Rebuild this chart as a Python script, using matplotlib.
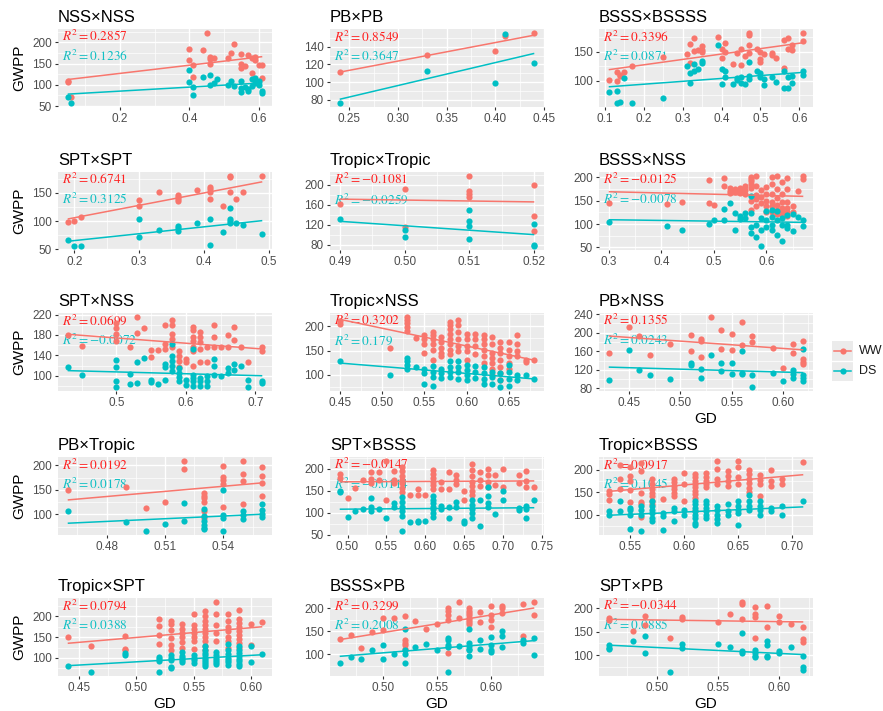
import numpy as np
import matplotlib
matplotlib.use("Agg")
import matplotlib.pyplot as plt

plt.rcParams["font.family"] = ["Liberation Sans", "DejaVu Sans"]
plt.rcParams["mathtext.fontset"] = "stix"

WW_COLOR = "#F8766D"
DS_COLOR = "#00BFC4"

# GD value -> list of GWPP values, one dict per treatment and cross
NSS_NSS_WW = {0.05: [110, 106], 0.06: [72], 0.40: [184, 158], 0.41: [146, 118], 0.44: [181],
              0.45: [223], 0.46: [165, 160, 150], 0.47: [163], 0.51: [162], 0.52: [174],
              0.53: [196], 0.55: [172, 150, 140], 0.56: [145], 0.57: [170], 0.58: [162, 127],
              0.59: [158, 165], 0.60: [146], 0.61: [146, 115]}
NSS_NSS_DS = {0.05: [71], 0.06: [56], 0.40: [134, 106], 0.41: [94, 77], 0.44: [119],
              0.46: [124, 100], 0.47: [104], 0.48: [113], 0.51: [100], 0.52: [109], 0.53: [98],
              0.55: [108, 93, 83], 0.56: [95], 0.57: [89, 85], 0.58: [113, 97], 0.59: [117, 104],
              0.60: [100, 108], 0.61: [85, 81]}

PB_PB_WW = {0.24: [112], 0.33: [131], 0.40: [135], 0.41: [152], 0.44: [156]}
PB_PB_DS = {0.24: [76], 0.33: [113], 0.40: [99], 0.41: [154], 0.44: [122]}

BSSS_BSSSS_WW = {0.11: [101], 0.13: [115, 100], 0.14: [110, 108], 0.15: [115], 0.17: [126],
                 0.25: [141], 0.31: [146], 0.32: [164, 130], 0.33: [173, 152], 0.34: [153],
                 0.35: [160, 153, 150], 0.39: [175], 0.40: [155, 139], 0.41: [165, 150],
                 0.43: [129], 0.44: [148], 0.45: [155, 128], 0.46: [143],
                 0.47: [182, 178, 161, 148], 0.49: [155], 0.50: [149, 137, 132], 0.51: [146],
                 0.53: [147, 145], 0.54: [140], 0.56: [170, 122], 0.57: [174, 155],
                 0.58: [161, 153], 0.61: [183, 168]}
BSSS_BSSSS_DS = {0.11: [80], 0.13: [83, 61], 0.14: [63], 0.15: [105], 0.17: [61], 0.25: [71],
                 0.31: [125], 0.32: [114, 97], 0.33: [129, 116], 0.34: [120], 0.35: [134, 131],
                 0.39: [162], 0.40: [120, 95], 0.41: [117, 106], 0.43: [95], 0.44: [104, 101],
                 0.45: [106, 97], 0.46: [95], 0.47: [133, 109, 103], 0.49: [117],
                 0.50: [114, 107], 0.51: [103, 93], 0.53: [106], 0.54: [98], 0.56: [117, 87],
                 0.57: [106, 87], 0.58: [109, 97], 0.61: [116, 110]}

SPT_SPT_WW = {0.19: [98], 0.20: [101], 0.21: [107], 0.30: [138, 127], 0.33: [151],
              0.36: [147, 143, 139, 135], 0.39: [155], 0.41: [161, 157, 151, 139], 0.43: [127],
              0.44: [181, 178, 151], 0.45: [140], 0.46: [151], 0.49: [181]}
SPT_SPT_DS = {0.19: [66], 0.20: [55], 0.21: [56], 0.30: [103, 72], 0.33: [84], 0.36: [91, 87, 83],
              0.39: [97], 0.41: [104, 57], 0.43: [80], 0.44: [123, 104, 100, 97], 0.45: [96],
              0.46: [93], 0.49: [77]}

TROPIC_TROPIC_WW = {0.49: [162], 0.50: [191, 115], 0.51: [218, 188, 181, 175], 0.52: [200, 138, 108]}
TROPIC_TROPIC_DS = {0.49: [132], 0.50: [109, 95], 0.51: [150, 127, 118, 92], 0.52: [122, 80, 77]}

BSSS_NSS_WW = {0.30: [146], 0.41: [143], 0.44: [147], 0.49: [194, 146], 0.50: [141],
               0.52: [198, 182], 0.53: [178, 171, 166], 0.54: [175, 168], 0.55: [178, 171, 166],
               0.56: [182, 173, 164], 0.57: [201, 197, 192, 185, 178, 149, 130],
               0.58: [203, 181, 163, 154, 138], 0.59: [174, 159, 145],
               0.60: [180, 165, 150, 138, 125], 0.61: [200, 185, 165, 148, 138, 125],
               0.62: [204, 175, 155, 140, 130, 122], 0.63: [190, 165, 148, 135, 125, 120],
               0.64: [199, 175, 148, 135, 125, 118], 0.65: [138, 125], 0.66: [170],
               0.67: [203, 196]}
BSSS_NSS_DS = {0.30: [104], 0.41: [96], 0.44: [88], 0.49: [100], 0.50: [109], 0.52: [133, 109],
               0.53: [146], 0.54: [123, 87], 0.55: [117, 110], 0.56: [123, 114],
               0.57: [161, 123, 93, 80], 0.58: [98, 72], 0.59: [114, 87, 52], 0.60: [127, 109, 93],
               0.61: [130, 116, 98, 87], 0.62: [127, 109, 76], 0.63: [112, 98, 64],
               0.64: [120, 98, 91], 0.65: [122, 86], 0.66: [116], 0.67: [109, 96]}

SPT_NSS_WW = {0.43: [179], 0.45: [159], 0.50: [203, 193, 181, 169], 0.52: [156], 0.53: [216, 183],
              0.54: [193], 0.55: [151, 136], 0.56: [151], 0.57: [199, 162, 152],
              0.58: [209, 199, 181, 172, 156], 0.59: [149, 139, 129, 117], 0.60: [132, 126],
              0.61: [196, 189, 176, 169, 156, 149, 119], 0.62: [186, 176, 166, 152, 126],
              0.63: [156, 126], 0.64: [199, 176, 156], 0.65: [156], 0.66: [179, 156],
              0.67: [196, 170], 0.68: [156], 0.69: [127], 0.71: [156, 149]}
SPT_NSS_DS = {0.43: [117], 0.45: [102], 0.50: [130, 117, 90, 77], 0.52: [103, 83], 0.53: [126, 85],
              0.54: [135], 0.55: [91, 87], 0.56: [84], 0.57: [122, 117, 92],
              0.58: [162, 139, 129, 119, 109], 0.59: [115, 105, 97, 89], 0.60: [92, 82],
              0.61: [152, 102, 95, 89, 79], 0.62: [96, 89, 80], 0.63: [99, 89, 79],
              0.64: [132, 119, 102], 0.65: [100], 0.66: [115, 105], 0.67: [122, 112], 0.68: [119],
              0.69: [92, 77], 0.71: [89, 85]}

TROPIC_NSS_WW = {0.45: [211, 204], 0.51: [156], 0.53: [220, 213, 206, 199, 191], 0.54: [175],
                 0.55: [181, 174, 163, 144], 0.56: [188, 181, 174, 163, 152, 131],
                 0.57: [177, 167, 156, 145, 138], 0.58: [209, 202, 195, 184, 174, 163, 152, 142],
                 0.59: [213, 202, 188, 174, 160, 149], 0.60: [184, 174, 160, 149, 131],
                 0.61: [184, 174, 160, 142], 0.62: [181, 174, 163, 152, 138, 124],
                 0.63: [177, 163, 145, 135, 124, 113, 99], 0.64: [167, 156, 145, 131, 117, 103, 89],
                 0.65: [167, 152, 138, 124, 113], 0.66: [181, 163, 149, 138], 0.67: [131, 126],
                 0.68: [131]}
TROPIC_NSS_DS = {0.45: [128], 0.51: [99], 0.53: [135, 128, 121, 113], 0.54: [116],
                 0.55: [113, 103, 82], 0.56: [118, 106, 96, 76], 0.57: [113, 103, 94],
                 0.58: [128, 117, 106, 96], 0.59: [128, 116, 105, 92], 0.60: [121, 110, 99, 89],
                 0.61: [118, 106, 94], 0.62: [117, 104, 92, 82], 0.63: [106, 96, 82],
                 0.64: [103, 89, 74], 0.65: [121, 106, 92, 78], 0.66: [99, 89], 0.67: [99],
                 0.68: [92]}

PB_NSS_WW = {0.43: [156], 0.45: [212], 0.46: [193], 0.47: [151], 0.49: [176], 0.51: [196, 160],
             0.52: [186, 182, 147], 0.53: [235], 0.54: [207, 164], 0.55: [198, 162],
             0.56: [224, 174], 0.57: [193, 180], 0.59: [167], 0.60: [125], 0.61: [176, 157],
             0.62: [182, 144, 138, 133]}
PB_NSS_DS = {0.43: [98], 0.45: [162], 0.46: [120], 0.47: [108], 0.49: [100], 0.51: [135, 131],
             0.52: [122, 103], 0.53: [151], 0.54: [134, 118], 0.55: [134, 110],
             0.56: [161, 113, 111], 0.57: [109, 82], 0.59: [113], 0.60: [96],
             0.61: [119, 111, 102], 0.62: [164, 108, 102, 97]}

PB_TROPIC_WW = {0.46: [150], 0.49: [156], 0.50: [112], 0.51: [126], 0.52: [210, 193],
                0.53: [143, 138, 134, 126, 107, 93], 0.54: [198, 177, 171, 163, 115],
                0.55: [210, 183, 168, 122], 0.56: [196, 178, 165, 138]}
PB_TROPIC_DS = {0.46: [106], 0.49: [85], 0.50: [65], 0.51: [80], 0.52: [124, 87],
                0.53: [110, 96, 86, 79, 73, 69], 0.54: [149, 98, 93, 66], 0.55: [107, 99, 90],
                0.56: [121, 108, 101, 94]}

SPT_BSSS_WW = {0.49: [188, 178], 0.50: [133], 0.51: [156], 0.52: [175], 0.53: [192, 177, 168],
               0.54: [192, 175], 0.55: [219, 129], 0.56: [194, 175, 167],
               0.57: [205, 194, 183, 175, 167, 156, 146], 0.58: [141], 0.59: [154, 141],
               0.60: [141], 0.61: [197, 188, 180, 171, 163, 154], 0.62: [171, 154],
               0.63: [192, 154], 0.64: [185, 175, 165], 0.65: [150, 129],
               0.66: [210, 197, 184, 171, 160, 150, 141], 0.67: [192, 175, 160],
               0.68: [200, 185, 170, 158], 0.69: [185, 163], 0.70: [200, 158], 0.72: [185, 168],
               0.73: [195, 172, 158], 0.74: [158]}
SPT_BSSS_DS = {0.49: [150, 146], 0.50: [91], 0.51: [103], 0.52: [108], 0.53: [133, 114, 103],
               0.54: [109], 0.55: [87], 0.56: [123, 112], 0.57: [135, 124, 114, 103, 92, 57],
               0.58: [78], 0.59: [82, 78], 0.60: [81], 0.61: [137, 129, 123, 114, 108, 99, 91],
               0.62: [116, 108], 0.63: [112, 87], 0.64: [124, 114], 0.65: [81, 76],
               0.66: [129, 118, 109, 99, 87], 0.67: [129, 70], 0.68: [158, 138, 122, 113],
               0.69: [97], 0.70: [150, 129], 0.72: [110, 105], 0.73: [116, 108, 87], 0.74: [130]}

TROPIC_BSSS_WW = {0.53: [153, 147, 132], 0.54: [210, 180, 157], 0.55: [206, 187, 176, 155, 127],
                  0.56: [215, 198, 149, 128, 123, 94], 0.57: [180, 168, 157, 149, 142, 130, 123],
                  0.58: [134], 0.59: [180, 172, 164, 157, 149, 142], 0.60: [192, 168, 130],
                  0.61: [191, 183, 176, 168, 161, 153, 145, 138, 108],
                  0.62: [192, 183, 176, 168, 161], 0.63: [221, 202, 180, 168],
                  0.64: [198, 187, 176, 164], 0.65: [220, 206, 183, 168],
                  0.66: [200, 191, 180, 170, 160, 150], 0.67: [188, 178, 168, 142],
                  0.68: [200, 176, 165], 0.69: [180, 168], 0.71: [218]}
TROPIC_BSSS_DS = {0.53: [108, 100], 0.54: [130, 108], 0.55: [115, 111, 100, 68],
                  0.56: [119, 109, 100, 62], 0.57: [130, 119, 111, 104, 92, 85], 0.58: [104, 96, 66],
                  0.59: [115, 108, 85], 0.60: [111, 100], 0.61: [130, 123, 115, 108, 100, 92, 81, 76],
                  0.62: [130, 123, 115, 108, 100, 92], 0.63: [119, 111, 100, 89, 81],
                  0.64: [123, 108, 100], 0.65: [130, 119, 111, 104, 76], 0.66: [144, 130, 119, 111],
                  0.67: [130, 119, 111, 100], 0.68: [115, 108], 0.69: [119, 98], 0.71: [130]}

TROPIC_SPT_WW = {0.44: [150], 0.46: [130], 0.49: [153, 122, 118], 0.52: [193, 178, 155, 133],
                 0.53: [190, 183, 168, 148, 132, 118], 0.54: [182, 170, 160, 150, 138, 125],
                 0.55: [207, 180, 170, 160, 150, 140, 122],
                 0.56: [213, 200, 190, 180, 170, 160, 150, 140, 130, 120],
                 0.57: [236, 207, 180, 160, 140], 0.58: [207, 190, 175, 165, 150, 140, 125],
                 0.59: [215, 195, 185, 175, 165, 155, 145, 135, 125], 0.60: [183, 132], 0.61: [186]}
TROPIC_SPT_DS = {0.44: [80], 0.46: [65], 0.49: [112, 107], 0.52: [103, 98, 92, 65],
                 0.53: [108, 100, 95, 78, 75], 0.54: [115, 105, 100, 95, 90], 0.55: [108, 100, 95, 88],
                 0.56: [128, 120, 112, 106, 100, 95, 90, 85, 80], 0.57: [115, 108, 100, 95, 90, 85],
                 0.58: [133, 120, 110, 100, 95, 90, 82], 0.59: [128, 120, 112, 105, 98, 92, 85, 80],
                 0.60: [128, 90], 0.61: [110]}

BSSS_PB_WW = {0.46: [133], 0.47: [142], 0.48: [113], 0.49: [148], 0.50: [178, 153], 0.51: [178],
              0.52: [183, 130, 125, 120, 112], 0.53: [172], 0.54: [155], 0.55: [165],
              0.56: [200, 195, 185, 175, 103], 0.57: [215, 178],
              0.58: [200, 195, 190, 185, 180, 175, 170, 165], 0.59: [192, 170],
              0.60: [205, 185, 175, 160], 0.61: [205, 200, 190], 0.63: [210, 140], 0.64: [215, 185]}
BSSS_PB_DS = {0.46: [80], 0.47: [93], 0.48: [90], 0.49: [110], 0.50: [120, 90], 0.51: [100],
              0.52: [155, 110, 100, 80], 0.53: [115], 0.54: [122], 0.55: [108],
              0.56: [135, 130, 120, 115, 60], 0.57: [117], 0.58: [155, 125, 118, 112, 108, 95],
              0.59: [132, 112], 0.60: [138, 120, 110, 105], 0.61: [150, 140, 115],
              0.63: [130, 125], 0.64: [135, 98]}

SPT_PB_WW = {0.46: [180, 175], 0.48: [152], 0.49: [183, 163], 0.51: [137], 0.52: [181, 177],
             0.55: [170], 0.56: [188], 0.57: [214, 209, 177], 0.58: [202, 188, 181, 137],
             0.59: [204, 159], 0.60: [183, 171], 0.61: [166], 0.62: [159, 135, 128]}
SPT_PB_DS = {0.46: [121, 116, 112], 0.48: [130], 0.49: [140, 105], 0.51: [63], 0.52: [123, 116],
             0.55: [123], 0.56: [117], 0.57: [147, 109, 104], 0.58: [111, 105, 99, 96],
             0.59: [130, 121, 99, 96], 0.60: [109, 104], 0.61: [117], 0.62: [98, 75, 69]}

TITLES = ["NSS×NSS", "PB×PB", "BSSS×BSSSS",
          "SPT×SPT", "Tropic×Tropic", "BSSS×NSS",
          "SPT×NSS", "Tropic×NSS", "PB×NSS",
          "PB×Tropic", "SPT×BSSS", "Tropic×BSSS",
          "Tropic×SPT", "BSSS×PB", "SPT×PB"]
WW_DATA = [NSS_NSS_WW, PB_PB_WW, BSSS_BSSSS_WW, SPT_SPT_WW, TROPIC_TROPIC_WW, BSSS_NSS_WW,
           SPT_NSS_WW, TROPIC_NSS_WW, PB_NSS_WW, PB_TROPIC_WW, SPT_BSSS_WW, TROPIC_BSSS_WW,
           TROPIC_SPT_WW, BSSS_PB_WW, SPT_PB_WW]
DS_DATA = [NSS_NSS_DS, PB_PB_DS, BSSS_BSSSS_DS, SPT_SPT_DS, TROPIC_TROPIC_DS, BSSS_NSS_DS,
           SPT_NSS_DS, TROPIC_NSS_DS, PB_NSS_DS, PB_TROPIC_DS, SPT_BSSS_DS, TROPIC_BSSS_DS,
           TROPIC_SPT_DS, BSSS_PB_DS, SPT_PB_DS]
WW_R2 = ["0.2857", "0.8549", "0.3396", "0.6741", "-0.1081", "-0.0125", "0.0699", "0.3202",
         "0.1355", "0.0192", "-0.0147", "0.0917", "0.0794", "0.3299", "-0.0344"]
DS_R2 = ["0.1236", "0.3647", "0.0871", "0.3125", "-0.0259", "-0.0078", "-0.0072", "0.179",
         "0.0243", "0.0178", "-0.0114", "0.1045", "0.0388", "0.2008", "0.0885"]
X_TICKS = [["0.2", "0.4", "0.6"], ["0.25", "0.30", "0.35", "0.40", "0.45"],
           ["0.1", "0.2", "0.3", "0.4", "0.5", "0.6"],
           ["0.2", "0.3", "0.4", "0.5"], ["0.49", "0.50", "0.51", "0.52"],
           ["0.3", "0.4", "0.5", "0.6"],
           ["0.5", "0.6", "0.7"], ["0.45", "0.50", "0.55", "0.60", "0.65"],
           ["0.45", "0.50", "0.55", "0.60"],
           ["0.48", "0.51", "0.54"], ["0.50", "0.55", "0.60", "0.65", "0.70", "0.75"],
           ["0.55", "0.60", "0.65", "0.70"],
           ["0.45", "0.50", "0.55", "0.60"], ["0.50", "0.55", "0.60"], ["0.50", "0.55", "0.60"]]
Y_TICKS = [[50, 100, 150, 200], [80, 100, 120, 140], [100, 150],
           [50, 100, 150], [80, 120, 160, 200], [50, 100, 150, 200],
           [100, 140, 180, 220], [100, 150, 200], [80, 120, 160, 200, 240],
           [100, 150, 200], [50, 100, 150, 200], [100, 150, 200],
           [100, 150, 200], [100, 150, 200], [100, 150, 200]]

# panel placement in pixels of the 883x711 canvas
COL_LEFT = [58, 330, 599]
ROW_TOP = [29, 172, 313, 457, 598]
PANEL_W, PANEL_H = 214, 78
FIG_W, FIG_H = 883, 711


def unpack(groups):
    xs, ys = [], []
    for gd, vals in groups.items():
        xs += [gd] * len(vals)
        ys += vals
    return np.array(xs), np.array(ys, dtype=float)


def midpoints(ticks):
    t = np.asarray(ticks, dtype=float)
    step = t[1] - t[0]
    return np.concatenate([[t[0] - step / 2], (t[:-1] + t[1:]) / 2, [t[-1] + step / 2]])


def r2_label(value):
    return r"$R^2 = %s$" % value


def draw_panel(ax, idx):
    ax.set_facecolor("#EBEBEB")
    for s in ax.spines.values():
        s.set_visible(False)

    all_x, all_y = [], []
    for groups, color in [(WW_DATA[idx], WW_COLOR), (DS_DATA[idx], DS_COLOR)]:
        x, y = unpack(groups)
        ax.scatter(x, y, s=20, color=color, linewidths=0, zorder=2)
        # least-squares trend line over the observed GD range
        slope, icept = np.polyfit(x, y, 1)
        fx = np.array([x.min(), x.max()])
        fy = icept + slope * fx
        ax.plot(fx, fy, color=color, lw=1.1, zorder=3, solid_capstyle="butt")
        all_x += list(x)
        all_y += list(y) + list(fy)

    xmin, xmax = min(all_x), max(all_x)
    ymin, ymax = min(all_y), max(all_y)
    dx, dy = (xmax - xmin) * 0.05, (ymax - ymin) * 0.05

    xt = [float(t) for t in X_TICKS[idx]]
    yt = Y_TICKS[idx]
    ax.set_xticks(xt)
    ax.set_xticklabels(X_TICKS[idx])
    ax.set_yticks(yt)
    ax.set_xticks(midpoints(xt), minor=True)
    ax.set_yticks(midpoints(yt), minor=True)
    ax.set_xlim(xmin - dx, xmax + dx)
    ax.set_ylim(ymin - dy, ymax + dy)

    ax.grid(which="major", color="white", lw=1.0, zorder=0)
    ax.grid(which="minor", color="white", lw=0.5, zorder=0)
    ax.set_axisbelow(True)
    ax.tick_params(which="major", length=2.5, width=0.8, color="#333333",
                   labelcolor="#4D4D4D", labelsize=8.5, pad=2)
    ax.tick_params(which="minor", length=0)

    ax.text(0.02, 0.9, r2_label(WW_R2[idx]), transform=ax.transAxes, color="#FF2020",
            fontsize=9.5, ha="left", va="center", zorder=1)
    ax.text(0.02, 0.65, r2_label(DS_R2[idx]), transform=ax.transAxes, color="#10C0C4",
            fontsize=9.5, ha="left", va="center", zorder=1)
    ax.set_title(TITLES[idx], loc="left", fontsize=12, pad=5)


fig = plt.figure(figsize=(FIG_W / 100, FIG_H / 100), dpi=100)

for idx in range(15):
    row, col = divmod(idx, 3)
    rect = [COL_LEFT[col] / FIG_W, 1 - (ROW_TOP[row] + PANEL_H) / FIG_H,
            PANEL_W / FIG_W, PANEL_H / FIG_H]
    ax = fig.add_axes(rect)
    draw_panel(ax, idx)
    if col == 0:
        ax.set_ylabel("GWPP", fontsize=11, labelpad=4)
    if row == 4 or idx == 8:
        ax.set_xlabel("GD", fontsize=11, labelpad=2)

# legend keys drawn as a small grey panel with a line and a dot per group
leg = fig.add_axes([832 / FIG_W, 1 - 381 / FIG_H, 21 / FIG_W, 40 / FIG_H])
leg.set_facecolor("#EBEBEB")
for s in leg.spines.values():
    s.set_visible(False)
leg.set_xticks([])
leg.set_yticks([])
leg.set_xlim(0, 1)
leg.set_ylim(0, 2)
leg.axhline(1, color="white", lw=1.0)
for ypos, color, name in [(1.5, WW_COLOR, "WW"), (0.5, DS_COLOR, "DS")]:
    leg.plot([0.1, 0.9], [ypos, ypos], color=color, lw=1.1)
    leg.scatter([0.5], [ypos], s=20, color=color, linewidths=0, zorder=3)
    leg.text(1.3, ypos, name, fontsize=9, ha="left", va="center", color="#1A1A1A")

fig.savefig("out.png", dpi=100)
